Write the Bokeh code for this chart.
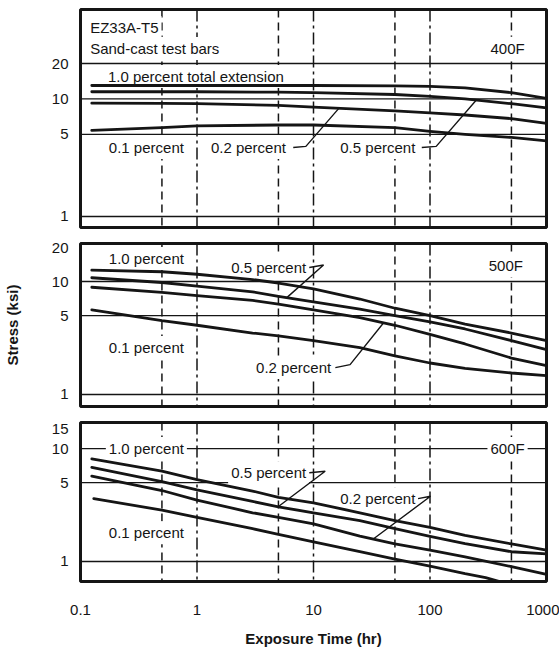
from bokeh.plotting import figure
from bokeh.models import Span, Label, FixedTicker, Range1d
from bokeh.layouts import column
from bokeh.embed import file_html
from bokeh.resources import INLINE
import numpy as np

FONT = "Liberation Sans"
INK = "#151515"

# ---------------- data ----------------
x_ticks = [0.1, 1, 10, 100, 1000]
x_tick_labels = ["0.1", "1", "10", "100", "1000"]
x_grid_decades = [1, 10, 100]
x_grid_halves = [0.5, 5, 50, 500]

y_ticks_400 = [1, 5, 10, 20]
y_ticks_500 = [1, 5, 10, 20]
y_ticks_600 = [1, 5, 10, 15]
y_grid_400 = [1, 5, 10, 20]
y_grid_500 = [1, 5, 10]
y_grid_600 = [1, 5, 10]

# 400F (hours, ksi)
t400 = [0.125, 0.5, 1, 5, 10, 50, 100, 200, 500, 1000]
s400_10 = [13.0, 13.0, 13.0, 13.0, 13.0, 12.9, 12.8, 12.4, 11.3, 10.1]
s400_05 = [11.5, 11.5, 11.5, 11.4, 11.3, 10.9, 10.5, 10.0, 9.1, 8.4]
s400_02 = [9.2, 9.15, 9.1, 8.8, 8.5, 7.9, 7.6, 7.3, 6.8, 6.2]
s400_01 = [5.4, 5.7, 5.9, 6.0, 6.0, 5.7, 5.3, 5.0, 4.7, 4.4]

# 500F
t500 = [0.125, 0.5, 1, 3, 5, 10, 25, 50, 100, 200, 500, 1000]
s500_10 = [12.6, 12.2, 11.6, 10.4, 9.7, 8.6, 7.0, 5.8, 5.0, 4.2, 3.5, 3.0]
s500_05 = [10.8, 9.8, 9.1, 8.1, 7.4, 6.6, 5.7, 5.0, 4.4, 3.8, 3.0, 2.5]
s500_02 = [8.9, 8.0, 7.5, 6.8, 6.3, 5.6, 4.8, 4.1, 3.4, 2.8, 2.1, 1.8]
s500_01 = [5.6, 4.5, 4.1, 3.5, 3.3, 3.0, 2.6, 2.2, 1.9, 1.7, 1.55, 1.47]

# 600F
t600 = [0.125, 0.5, 1, 3, 5, 10, 25, 50, 100, 200, 500, 1000]
s600_10 = [8.1, 6.3, 5.3, 4.2, 3.7, 3.3, 2.7, 2.3, 2.0, 1.7, 1.43, 1.26]
s600_05 = [6.8, 5.1, 4.3, 3.4, 3.05, 2.7, 2.3, 1.95, 1.67, 1.44, 1.22, 1.17]
s600_02 = [5.7, 4.25, 3.5, 2.7, 2.46, 2.15, 1.68, 1.43, 1.26, 1.10, 0.9, 0.77]
t600_01 = [0.13, 0.5, 1, 3, 5, 10, 25, 50, 100, 200, 300, 500]
s600_01 = [3.6, 2.85, 2.46, 1.95, 1.74, 1.49, 1.22, 1.05, 0.91, 0.78, 0.72, 0.62]


def make_panel(y_lo, y_hi, frame_h, top, bottom, show_x, y_ticks, y_grid):
    p = figure(frame_width=466, frame_height=frame_h,
               x_axis_type="log", y_axis_type="log",
               x_range=Range1d(0.1, 1000), y_range=Range1d(y_lo, y_hi),
               output_backend="svg", toolbar_location=None,
               min_border_left=76, min_border_right=17,
               min_border_top=top, min_border_bottom=bottom,
               x_axis_location="below" if show_x else None)
    p.xgrid.visible = False
    p.ygrid.visible = False
    p.outline_line_color = INK
    p.outline_line_width = 3
    p.background_fill_color = "white"
    p.border_fill_color = "white"
    ya = p.yaxis[0]
    ya.ticker = FixedTicker(ticks=y_ticks)
    ya.major_label_overrides = {v: str(v) for v in y_ticks}
    ya.axis_line_color = None
    ya.major_tick_line_color = None
    ya.minor_tick_line_color = None
    ya.major_label_standoff = 6
    ya.major_label_text_font = FONT
    ya.major_label_text_font_size = "15px"
    ya.major_label_text_color = INK
    if show_x:
        xa = p.xaxis[0]
        xa.ticker = FixedTicker(ticks=x_ticks)
        xa.major_label_overrides = dict(zip(x_ticks, x_tick_labels))
        xa.axis_line_color = None
        xa.major_tick_line_color = None
        xa.minor_tick_line_color = None
        xa.major_label_standoff = 17
        xa.major_label_text_font = FONT
        xa.major_label_text_font_size = "15px"
        xa.major_label_text_color = INK
    for v in y_grid:
        p.add_layout(Span(location=v, dimension="width", line_color=INK,
                          line_width=1.3, level="underlay"))
    for v in x_grid_decades:
        p.add_layout(Span(location=v, dimension="height", line_color=INK,
                          line_width=1.5, line_dash="12 4 3 4", level="underlay"))
    for v in x_grid_halves:
        p.add_layout(Span(location=v, dimension="height", line_color=INK,
                          line_width=1.5, line_dash="8 5", level="underlay"))
    return p


def curve(p, xs, ys):
    p.line(xs, ys, line_color=INK, line_width=2.8, line_join="round", line_cap="round")


def text(p, s, x, y, align="left"):
    p.add_layout(Label(x=x, y=y, text=s, text_font=FONT, text_font_size="15px",
                       text_color=INK, text_align=align, text_baseline="middle",
                       background_fill_color="white", padding=3, level="underlay"))


def leader(p, x0, y0, x1, y1, xs, ys, xt):
    yt = 10 ** np.interp(np.log10(xt), np.log10(xs), np.log10(ys))
    p.line([x0, x1, xt], [y0, y1, yt], line_color=INK, line_width=1.4)


# ---------------- 400F ----------------
p1 = make_panel(0.806, 57.6, 218, 9, 8, False, y_ticks_400, y_grid_400)
text(p1, "EZ33A-T5", 0.114, 40.5)
text(p1, "Sand-cast test bars", 0.114, 26.8)
text(p1, "400F", 463, 27, "center")
text(p1, "1.0 percent total extension", 0.162, 15.5)
text(p1, "0.1 percent", 0.165, 3.86)
text(p1, "0.2 percent", 1.24, 3.86)
text(p1, "0.5 percent", 16.0, 3.86)
for s in (s400_10, s400_05, s400_02, s400_01):
    curve(p1, t400, s)
leader(p1, 6.7, 3.86, 8.6, 3.95, t400, s400_02, 16.5)
leader(p1, 85, 3.86, 113, 3.95, t400, s400_05, 250)

# ---------------- 500F ----------------
p2 = make_panel(0.783, 21.7, 163, 8, 8, False, y_ticks_500, y_grid_500)
p2.yaxis[0].axis_label = "Stress (ksi)"
p2.yaxis[0].axis_label_text_font = FONT
p2.yaxis[0].axis_label_text_font_style = "bold"
p2.yaxis[0].axis_label_text_font_size = "15px"
p2.yaxis[0].axis_label_text_color = INK
p2.yaxis[0].axis_label_standoff = 28
text(p2, "1.0 percent", 0.165, 16.0)
text(p2, "0.5 percent", 1.85, 13.3)
text(p2, "500F", 448, 13.8, "center")
text(p2, "0.1 percent", 0.165, 2.6)
text(p2, "0.2 percent", 3.03, 1.73)
for s in (s500_10, s500_05, s500_02, s500_01):
    curve(p2, t500, s)
leader(p2, 9.2, 13.3, 12.2, 14.0, t500, s500_05, 5.9)
leader(p2, 15.4, 1.73, 20.6, 1.84, t500, s500_02, 40)

# ---------------- 600F ----------------
p3 = make_panel(0.665, 17.0, 159, 8, 67, True, y_ticks_600, y_grid_600)
p3.xaxis[0].axis_label = "Exposure Time (hr)"
p3.xaxis[0].axis_label_text_font = FONT
p3.xaxis[0].axis_label_text_font_style = "bold"
p3.xaxis[0].axis_label_text_font_size = "15px"
p3.xaxis[0].axis_label_text_color = INK
p3.xaxis[0].axis_label_standoff = 12
text(p3, "1.0 percent", 0.165, 10.0)
text(p3, "600F", 463, 10.0, "center")
text(p3, "0.5 percent", 1.85, 6.1)
text(p3, "0.2 percent", 16.0, 3.6)
text(p3, "0.1 percent", 0.165, 1.8)
for s in (s600_10, s600_05, s600_02):
    curve(p3, t600, s)
curve(p3, t600_01, s600_01)
leader(p3, 9.2, 6.1, 12.6, 6.3, t600, s600_05, 4.97)
leader(p3, 79, 3.6, 101, 3.78, t600, s600_02, 32.6)

layout = column(p1, p2, p3, spacing=0)
open("out.html", "w").write(file_html(layout, INLINE))
